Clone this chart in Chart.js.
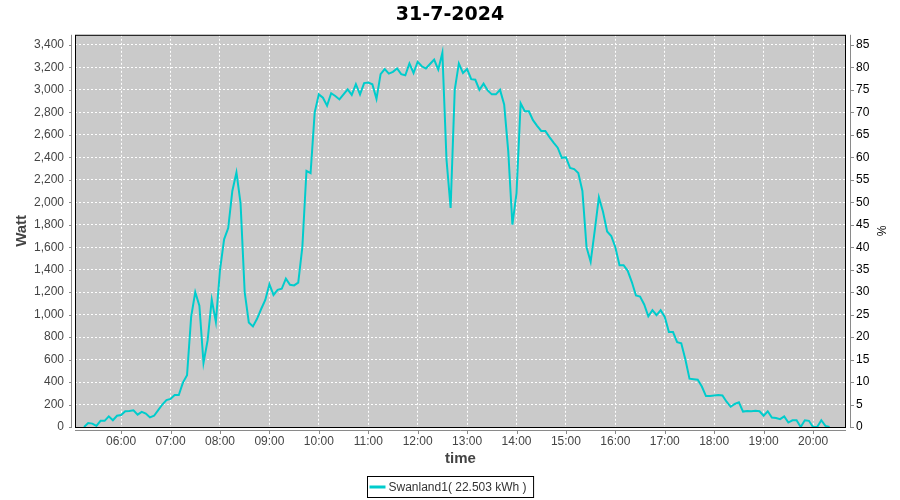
<!DOCTYPE html>
<html>
<head>
<meta charset="utf-8">
<title>31-7-2024</title>
<script src="https://cdn.jsdelivr.net/npm/chart.js@4.4.1/dist/chart.umd.min.js"></script>
<style>
  html, body { margin: 0; padding: 0; background: #fff; }
  #wrap { width: 900px; height: 500px; }
</style>
</head>
<body>
<div id="wrap"><canvas id="chartPotencia" width="900" height="500"></canvas></div>
<script>
// Datos (muestras cada 5 minutos)
const horas = [
  '05:15','05:20','05:25','05:30','05:35','05:40','05:45','05:50','05:55',
  '06:00','06:05','06:10','06:15','06:20','06:25','06:30','06:35','06:40','06:45','06:50','06:55',
  '07:00','07:05','07:10','07:15','07:20','07:25','07:30','07:35','07:40','07:45','07:50','07:55',
  '08:00','08:05','08:10','08:15','08:20','08:25','08:30','08:35','08:40','08:45','08:50','08:55',
  '09:00','09:05','09:10','09:15','09:20','09:25','09:30','09:35','09:40','09:45','09:50','09:55',
  '10:00','10:05','10:10','10:15','10:20','10:25','10:30','10:35','10:40','10:45','10:50','10:55',
  '11:00','11:05','11:10','11:15','11:20','11:25','11:30','11:35','11:40','11:45','11:50','11:55',
  '12:00','12:05','12:10','12:15','12:20','12:25','12:30','12:35','12:40','12:45','12:50','12:55',
  '13:00','13:05','13:10','13:15','13:20','13:25','13:30','13:35','13:40','13:45','13:50','13:55',
  '14:00','14:05','14:10','14:15','14:20','14:25','14:30','14:35','14:40','14:45','14:50','14:55',
  '15:00','15:05','15:10','15:15','15:20','15:25','15:30','15:35','15:40','15:45','15:50','15:55',
  '16:00','16:05','16:10','16:15','16:20','16:25','16:30','16:35','16:40','16:45','16:50','16:55',
  '17:00','17:05','17:10','17:15','17:20','17:25','17:30','17:35','17:40','17:45','17:50','17:55',
  '18:00','18:05','18:10','18:15','18:20','18:25','18:30','18:35','18:40','18:45','18:50','18:55',
  '19:00','19:05','19:10','19:15','19:20','19:25','19:30','19:35','19:40','19:45','19:50','19:55',
  '20:00','20:05','20:10','20:15','20:20',
];
const watt = [
  0, 35, 30, 10, 55, 55, 95, 60, 100,
  107, 140, 143, 148, 110, 135, 120, 85, 100, 150, 200, 240,
  250, 285, 285, 395, 460, 980, 1200, 1080, 570, 770, 1133, 935,
  1395, 1670, 1770, 2100, 2265, 1990, 1200, 930, 895, 963, 1050, 1130,
  1270, 1175, 1220, 1230, 1320, 1265, 1260, 1285, 1600, 2280, 2260, 2800,
  2960, 2930, 2860, 2970, 2945, 2915, 2960, 3005, 2955, 3050, 2960, 3060,
  3065, 3050, 2920, 3140, 3185, 3145, 3160, 3190, 3140, 3130, 3235, 3150,
  3250, 3210, 3190, 3230, 3270, 3180, 3330, 2380, 1950, 3000, 3235, 3150,
  3185, 3095, 3090, 3000, 3055, 2995, 2960, 2960, 3000, 2870, 2450, 1800,
  2080, 2880, 2810, 2810, 2730, 2680, 2635, 2635, 2580, 2530, 2485, 2395,
  2400, 2305, 2295, 2260, 2100, 1600, 1470, 1750, 2045, 1915, 1740, 1700,
  1600, 1440, 1440, 1390, 1290, 1170, 1160, 1090, 985, 1040, 995, 1040,
  980, 845, 845, 755, 745, 600, 430, 425, 420, 360, 275, 275,
  280, 285, 280, 225, 180, 205, 220, 137, 143, 140, 145, 140,
  100, 140, 85, 80, 70, 95, 40, 60, 60, 0, 60, 55,
  0, 0, 60, 10, 0,
];
const ticksHora = ['06:00','07:00','08:00','09:00','10:00','11:00','12:00','13:00',
                   '14:00','15:00','16:00','17:00','18:00','19:00','20:00'];
const ticksWatt = [0, 200, 400, 600, 800, 1000, 1200, 1400, 1600, 1800, 2000,
                   2200, 2400, 2600, 2800, 3000, 3200, 3400];
const ticksPct = [0, 5, 10, 15, 20, 25, 30, 35, 40, 45, 50, 55, 60, 65, 70, 75, 80, 85];

const etiquetaSerie = 'Swanland1( 22.503 kWh )';
const WATT_MAX = 3490;      // tope del eje izquierdo
const WATT_POR_PCT = 40;    // 100 % = 4000 W

const aMinutos = (h) => { const [hh, mm] = h.split(':').map(Number); return hh * 60 + mm; };
const FUENTE = "'Liberation Sans', Arial, sans-serif";

// ── fondo gris, borde del plot, ejes separados y leyenda con caja ──
const decoracion = {
    id: 'decoracion',
    beforeDraw(chart) {
        const { ctx, chartArea: a } = chart;
        ctx.save();
        ctx.fillStyle = '#CACACA';
        ctx.fillRect(a.left, a.top, a.right - a.left, a.bottom - a.top);
        ctx.restore();
    },
    afterDraw(chart) {
        const { ctx, chartArea: a, scales } = chart;
        ctx.save();
        // borde del área de datos
        ctx.strokeStyle = '#000';
        ctx.lineWidth = 1;
        ctx.strokeRect(a.left + 0.5, a.top + 0.5, a.right - a.left - 1, a.bottom - a.top);

        // líneas de eje desplazadas + marcas
        ctx.strokeStyle = '#8a8a8a';
        ctx.beginPath();
        ctx.moveTo(a.left - 3.5, a.top); ctx.lineTo(a.left - 3.5, a.bottom + 1);
        ctx.moveTo(a.right + 4.5, a.top); ctx.lineTo(a.right + 4.5, a.bottom + 1);
        ctx.moveTo(a.left, a.bottom + 3.5); ctx.lineTo(a.right, a.bottom + 3.5);
        scales.y.ticks.forEach(t => {
            const py = Math.round(scales.y.getPixelForValue(t.value)) + 0.5;
            ctx.moveTo(a.left - 6, py); ctx.lineTo(a.left - 3, py);
        });
        scales.y1.ticks.forEach(t => {
            const py = Math.round(scales.y1.getPixelForValue(t.value)) + 0.5;
            ctx.moveTo(a.right + 5, py); ctx.lineTo(a.right + 8, py);
        });
        scales.x.ticks.forEach(t => {
            const px = Math.round(scales.x.getPixelForValue(t.value)) + 0.5;
            ctx.moveTo(px, a.bottom + 4); ctx.lineTo(px, a.bottom + 7);
        });
        ctx.stroke();

        // leyenda
        ctx.font = '12px ' + FUENTE;
        const anchoTxt = ctx.measureText(etiquetaSerie).width;
        const anchoCaja = anchoTxt + 28;
        const x0 = Math.round(450 - anchoCaja / 2) + 0.5;
        const y0 = 476.5;
        ctx.strokeStyle = '#000';
        ctx.strokeRect(x0, y0, anchoCaja, 21);
        ctx.strokeStyle = '#00CCCC';
        ctx.lineWidth = 3;
        ctx.beginPath();
        ctx.moveTo(x0 + 2, y0 + 10.5); ctx.lineTo(x0 + 18, y0 + 10.5);
        ctx.stroke();
        ctx.fillStyle = '#333';
        ctx.textBaseline = 'middle';
        ctx.fillText(etiquetaSerie, x0 + 21, y0 + 11);
        ctx.restore();
    },
};

const el = document.getElementById('chartPotencia');
new Chart(el, {
    type: 'line',
    data: {
        datasets: [{
            label: etiquetaSerie,
            data: horas.map((h, i) => ({ x: aMinutos(h), y: watt[i] })),
            borderColor: '#00CCCC',
            borderWidth: 2,
            pointRadius: 0,
            tension: 0,
            fill: false,
            yAxisID: 'y',
        }],
    },
    options: {
        responsive: false,
        animation: false,
        layout: { padding: 0 },
        plugins: {
            legend: { display: false },
            tooltip: { enabled: false },
            title: {
                display: true,
                text: '31-7-2024',
                color: '#000',
                font: { family: "'DejaVu Sans', sans-serif", size: 19, weight: 'bold' },
                padding: { top: 4, bottom: 8 },
            },
        },
        scales: {
            x: {
                type: 'linear',
                min: aMinutos('05:04'),
                max: aMinutos('20:40'),
                afterFit: (s) => { s.height = 73; },
                afterBuildTicks: (s) => { s.ticks = ticksHora.map(h => ({ value: aMinutos(h) })); },
                ticks: {
                    callback: (v, i) => ticksHora[i],
                    color: '#444',
                    font: { family: FUENTE, size: 12 },
                    padding: 7,
                    maxRotation: 0,
                    autoSkip: false,
                },
                grid: { color: '#fff', lineWidth: 1, drawTicks: false },
                border: { display: false, dash: [2, 2] },
                title: {
                    display: true,
                    text: 'time',
                    color: '#444',
                    font: { family: FUENTE, size: 15, weight: 'bold' },
                    padding: { top: 32, bottom: 32 },
                },
            },
            y: {
                position: 'left',
                min: 0,
                max: WATT_MAX,
                afterFit: (s) => { s.width = 75; },
                afterBuildTicks: (s) => { s.ticks = ticksWatt.map(v => ({ value: v })); },
                ticks: {
                    callback: (v) => v.toLocaleString('en-US'),
                    color: '#444',
                    font: { family: FUENTE, size: 12 },
                    padding: 11,
                },
                grid: { color: '#fff', lineWidth: 1, drawTicks: false },
                border: { display: false, dash: [2, 2] },
                title: {
                    display: true,
                    text: 'Watt',
                    color: '#444',
                    font: { family: FUENTE, size: 15, weight: 'bold' },
                    padding: { top: 13, bottom: 13 },
                },
            },
            y1: {
                position: 'right',
                min: 0,
                max: WATT_MAX / WATT_POR_PCT,
                afterFit: (s) => { s.width = 54; },
                afterBuildTicks: (s) => { s.ticks = ticksPct.map(v => ({ value: v })); },
                ticks: {
                    callback: (v) => String(v),
                    color: '#000',
                    font: { family: FUENTE, size: 12 },
                    padding: 10,
                },
                grid: { drawOnChartArea: false, drawTicks: false },
                border: { display: false },
                title: {
                    display: true,
                    text: '%',
                    color: '#000',
                    font: { family: FUENTE, size: 12 },
                    padding: { top: 12, bottom: 12 },
                },
            },
        },
    },
    plugins: [decoracion],
});
</script>
</body>
</html>
